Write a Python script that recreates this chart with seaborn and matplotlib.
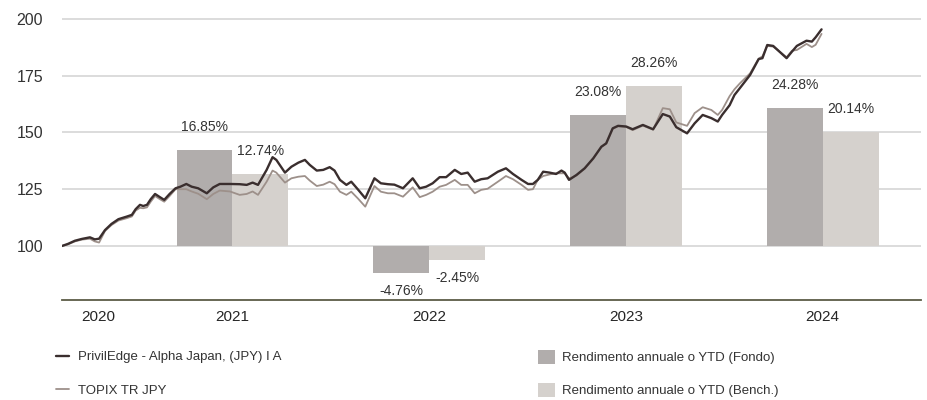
import numpy as np
import pandas as pd
import seaborn as sns
import matplotlib.pyplot as plt

# --- data ---
fund_name = "PrivilEdge - Alpha Japan, (JPY) I A"
bench_name = "TOPIX TR JPY"
fund_bar_name = "Rendimento annuale o YTD (Fondo)"
bench_bar_name = "Rendimento annuale o YTD (Bench.)"

dates = [
    "2020-08-20", "2020-08-31", "2020-09-13", "2020-09-26", "2020-10-11", "2020-10-20",
    "2020-10-28", "2020-11-08", "2020-11-20", "2020-12-03", "2020-12-18", "2020-12-28",
    "2021-01-04", "2021-01-12", "2021-01-18", "2021-01-25", "2021-02-01", "2021-02-09",
    "2021-02-18", "2021-02-26", "2021-03-08", "2021-03-19", "2021-03-28", "2021-04-08",
    "2021-04-18", "2021-04-30", "2021-05-16", "2021-05-28", "2021-06-09", "2021-06-28",
    "2021-07-16", "2021-07-29", "2021-08-09", "2021-08-19", "2021-09-04", "2021-09-15",
    "2021-09-22", "2021-10-08", "2021-10-20", "2021-11-02", "2021-11-14", "2021-11-23",
    "2021-12-06", "2021-12-18", "2021-12-30",
    "2022-01-08", "2022-01-18", "2022-01-30", "2022-02-08", "2022-02-20", "2022-03-06",
    "2022-03-23", "2022-04-04", "2022-04-17", "2022-04-29", "2022-05-15", "2022-06-02",
    "2022-06-15", "2022-06-27", "2022-07-09", "2022-07-22", "2022-08-03", "2022-08-19",
    "2022-08-31", "2022-09-12", "2022-09-25", "2022-10-07", "2022-10-19", "2022-11-07",
    "2022-11-22", "2022-12-05", "2022-12-21",
    "2023-01-02", "2023-01-11", "2023-01-20", "2023-01-30", "2023-02-11", "2023-02-23",
    "2023-03-05", "2023-03-11", "2023-03-19", "2023-04-02", "2023-04-17", "2023-05-03",
    "2023-05-18", "2023-05-27", "2023-06-08", "2023-06-18", "2023-07-03", "2023-07-15",
    "2023-08-03", "2023-08-22", "2023-09-09", "2023-09-22", "2023-10-04", "2023-10-24",
    "2023-11-07", "2023-11-22", "2023-12-08", "2023-12-20", "2023-12-28",
    "2024-01-11", "2024-01-20", "2024-01-30", "2024-02-18", "2024-03-05", "2024-03-12",
    "2024-03-21", "2024-04-01", "2024-04-08", "2024-04-26", "2024-05-06", "2024-05-15",
    "2024-06-02", "2024-06-12", "2024-06-19", "2024-06-30",
]

fund = [
    100.0, 100.9, 102.3, 103.1, 103.8, 102.9, 103.2, 107.0, 109.7, 111.8, 112.9, 113.7,
    116.2, 118.1, 117.6, 118.1, 120.6, 122.9, 121.5, 120.3, 122.9, 125.4, 126.1, 127.3,
    126.1, 125.4, 123.2, 125.8, 127.3, 127.3, 127.2, 126.9, 127.9, 126.9, 133.5, 139.1,
    137.9, 132.3, 134.9, 136.7, 137.9, 135.7, 133.2, 133.5, 134.7,
    133.2, 129.1, 126.9, 128.3, 125.0, 121.0, 129.8, 127.6, 127.2, 127.0, 125.4, 129.8,
    125.4, 126.1, 127.6, 130.3, 130.3, 133.5, 131.7, 132.3, 128.3, 129.4, 129.8, 132.7,
    134.2, 131.7, 129.1,
    127.3, 127.3, 129.1, 132.7, 132.3, 131.7, 133.2, 132.3, 129.1, 131.3, 134.2, 138.6,
    143.7, 145.2, 151.8, 152.9, 152.6, 151.4, 153.3, 151.4, 158.1, 157.0, 152.3, 149.6,
    154.0, 157.7, 156.3, 154.8, 157.7,
    162.0, 166.5, 169.5, 175.3, 182.3, 182.7, 188.5, 188.1, 186.6, 182.7, 185.6, 188.1,
    190.4, 190.0, 191.9, 195.4,
]

bench = [
    100.0, 100.7, 102.0, 102.8, 103.2, 102.0, 101.5, 106.6, 109.2, 111.2, 112.2, 113.0,
    115.6, 116.8, 116.6, 117.0, 119.5, 122.0, 120.6, 119.5, 122.0, 125.0, 125.0, 125.0,
    124.0, 123.0, 120.6, 122.9, 124.4, 124.0, 122.5, 122.9, 124.0, 122.5, 128.3, 133.2,
    132.3, 127.9, 129.8, 130.5, 130.8, 128.8, 126.4, 127.0, 128.3,
    127.2, 123.9, 122.5, 123.9, 121.0, 117.3, 126.4, 123.9, 123.2, 123.2, 121.7, 125.8,
    121.5, 122.5, 123.9, 126.1, 126.9, 129.1, 126.9, 126.9, 123.2, 124.7, 125.2, 128.3,
    130.8, 129.4, 126.9,
    124.7, 125.0, 129.1, 130.8, 131.5, 132.0, 132.0, 132.0, 129.8, 131.0, 134.0, 138.4,
    143.6, 145.0, 151.5, 152.7, 152.4, 151.0, 153.0, 151.2, 160.7, 160.2, 154.4, 152.9,
    158.5, 161.1, 159.9, 157.7, 159.9,
    166.0, 169.0, 171.6, 176.0, 182.5, 183.5, 188.1, 187.8, 186.5, 183.1, 186.0, 186.3,
    189.0, 187.6, 188.6, 193.4,
]

bar_years = [2021, 2022, 2023, 2024]
fund_returns = [16.85, -4.76, 23.08, 24.28]
bench_returns = [12.74, -2.45, 28.26, 20.14]

yticks = [100, 125, 150, 175, 200]

# colours
FUND_LINE = "#3a2e2e"
BENCH_LINE = "#9d908a"
FUND_BAR = "#b1adac"
BENCH_BAR = "#d5d1cd"
TEXT = "#333333"
AXIS = "#5c5c46"


def dec_year(s):
    ts = pd.Timestamp(s)
    days = 366 if ts.is_leap_year else 365
    return ts.year + (ts.dayofyear - 1) / days


line_df = pd.DataFrame({"t": [dec_year(d) for d in dates], "fund": fund, "bench": bench})

bar_df = pd.DataFrame({
    "t": [y + 0.5 for y in bar_years] * 2,
    "ret": fund_returns + bench_returns,
    "serie": [fund_bar_name] * len(bar_years) + [bench_bar_name] * len(bar_years),
})

sns.set_theme(style="white")
plt.rcParams["font.family"] = ["Liberation Sans", "DejaVu Sans"]

fig = plt.figure(figsize=(9.28, 4.0), dpi=100)
ax_bar = fig.add_axes([62 / 928, 100 / 400, 859 / 928, 292 / 400])
ax = ax_bar.twinx()
ax.set_zorder(ax_bar.get_zorder() + 1)
ax.patch.set_visible(False)

# bars (annual returns), 1% = 2.5 index points, zero at 100
sns.barplot(data=bar_df, x="t", y="ret", hue="serie",
            hue_order=[fund_bar_name, bench_bar_name],
            palette=[FUND_BAR, BENCH_BAR], native_scale=True, width=0.568,
            saturation=1, errorbar=None, legend=False, linewidth=0, ax=ax_bar)

# lines
sns.lineplot(data=line_df, x="t", y="bench", color=BENCH_LINE, lw=1.3, ax=ax, label=bench_name)
sns.lineplot(data=line_df, x="t", y="fund", color=FUND_LINE, lw=1.7, ax=ax, label=fund_name)

y_lo, y_hi = 76.2, 204.8
ax.set_ylim(y_lo, y_hi)
ax_bar.set_ylim((y_lo - 100) / 2.5, (y_hi - 100) / 2.5)
x0 = line_df["t"].iloc[0]
ax.set_xlim(x0, 2025)

# grid on bar axis so bars cover it
ax_bar.set_yticks([(t - 100) / 2.5 for t in yticks])
ax_bar.yaxis.grid(True, color="#d9d9d9", lw=1.3)
ax_bar.set_axisbelow(True)
ax_bar.tick_params(axis="y", left=False, right=False, labelleft=False, labelright=False)
ax_bar.tick_params(axis="x", bottom=False, labelbottom=False)
ax_bar.set_xlabel("")
ax_bar.set_ylabel("")
for s in ax_bar.spines.values():
    s.set_visible(False)

# left axis for index values
ax.yaxis.tick_left()
ax.set_yticks(yticks)
ax.tick_params(axis="y", left=False, right=False, labelleft=True, labelright=False,
               length=0, pad=13.5, labelsize=11.5, labelcolor=TEXT)
ax.set_ylabel("")
ax.set_xlabel("")
for k in ["top", "left", "right"]:
    ax.spines[k].set_visible(False)
ax.spines["bottom"].set_color(AXIS)
ax.spines["bottom"].set_linewidth(1.3)

# year boundaries as major ticks, year names centred as minor ticks
bounds = [2021, 2022, 2023, 2024, 2025]
edges = [x0] + bounds
centres = [(a + b) / 2 for a, b in zip(edges[:-1], edges[1:])]
labels = [str(int(np.floor(c))) for c in centres]
ax.set_xticks(bounds)
ax.set_xticklabels([""] * len(bounds))
ax.set_xticks(centres, minor=True)
ax.set_xticklabels(labels, minor=True)
ax.tick_params(axis="x", which="major", bottom=True, length=6, width=1.2, color=AXIS, direction="out")
ax.tick_params(axis="x", which="minor", bottom=True, length=0, pad=8, labelsize=11.5, labelcolor=TEXT)

# value labels on the bars
for cont, vals in zip(ax_bar.containers, [fund_returns, bench_returns]):
    for rect, v in zip(cont, vals):
        cx = rect.get_x() + rect.get_width() / 2
        off = 16.5 if v >= 0 else -13
        ax_bar.annotate(f"{v:.2f}%", xy=(cx, v), xytext=(0, off), textcoords="offset points",
                        ha="center", va="center", fontsize=10, color=TEXT)

# legends
ax.get_legend().remove()
h, l = ax.get_legend_handles_labels()
fig.legend([h[1], h[0]], [l[1], l[0]], loc="upper left", bbox_to_anchor=(56 / 928, 1 - 351 / 400),
           frameon=False, fontsize=9.5, handlelength=1.0, handletextpad=0.65, labelspacing=1.6,
           borderpad=0, borderaxespad=0, labelcolor=TEXT)
bar_handles = [ax_bar.containers[0].patches[0], ax_bar.containers[1].patches[0]]
fig.legend(bar_handles, [fund_bar_name, bench_bar_name], loc="upper left",
           bbox_to_anchor=(538 / 928, 1 - 350 / 400), frameon=False, fontsize=9.5,
           handlelength=1.3, handleheight=1.22, handletextpad=0.55, labelspacing=1.42,
           borderpad=0, borderaxespad=0, labelcolor=TEXT)

fig.savefig("out.png", dpi=100)
